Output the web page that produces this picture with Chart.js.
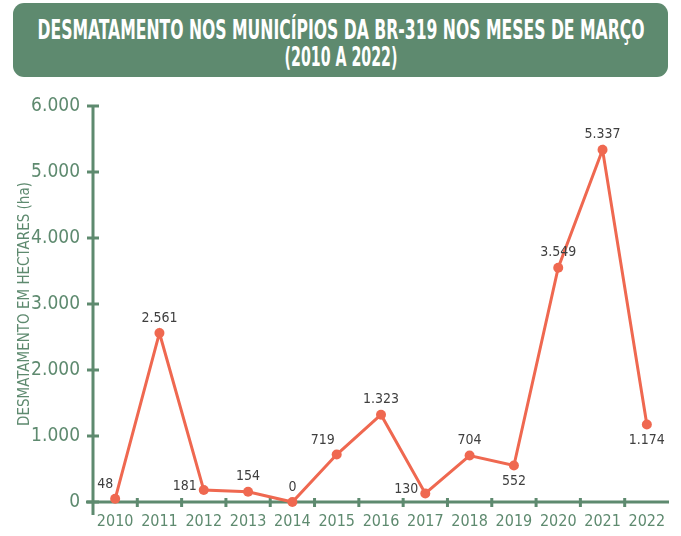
<!DOCTYPE html>
<html>
<head>
<meta charset="utf-8">
<script src="https://cdn.jsdelivr.net/npm/chart.js@4.4.0/dist/chart.umd.min.js"></script>
<style>
  html, body { margin: 0; padding: 0; background: #ffffff; }
  #wrap { position: relative; width: 681px; height: 536px; overflow: hidden; }
  #title {
    position: absolute; left: 13px; top: 3px; width: 655px; height: 74px;
    background: #5E8A6F; border-radius: 11px; color: #ffffff;
    font-family: 'DejaVu Sans Condensed', 'DejaVu Sans', sans-serif;
    font-weight: bold; font-size: 26px; line-height: 28px;
    white-space: nowrap;
  }
  #title span { position: absolute; left: 50%; transform-origin: center center; }
  canvas { position: absolute; left: 0; top: 0; }
</style>
</head>
<body>
<div id="wrap">
  <div id="title">
    <span id="t1" style="top:13px">DESMATAMENTO NOS MUNICÍPIOS DA BR-319 NOS MESES DE MARÇO</span>
    <span id="t2" style="top:40px">(2010 A 2022)</span>
  </div>
  <canvas id="c" width="681" height="536"></canvas>
</div>
<script>
const years = ['2010','2011','2012','2013','2014','2015','2016','2017','2018','2019','2020','2021','2022'];
const deforestation = [48, 2561, 181, 154, 0, 719, 1323, 130, 704, 552, 3549, 5337, 1174];
const yTicks = [0, 1000, 2000, 3000, 4000, 5000, 6000];
const labelSide = ['aboveLeft','above','left','above','above','aboveLeft','above','left','above','below','above','above','below'];

const GREEN = '#5E8A6F';
const LINE = '#EF6850';
const FONT = "'DejaVu Sans Condensed', 'DejaVu Sans', sans-serif";

// condense the title lines to the reference widths
[['t1', 607], ['t2', 113]].forEach(([id, w]) => {
  const el = document.getElementById(id);
  const s = w / el.getBoundingClientRect().width;
  el.style.transform = 'translateX(-50%) scaleX(' + s + ')';
});

function fmt(v) {
  return String(v).replace(/\B(?=(\d{3})+(?!\d))/g, '.');
}

const axesPlugin = {
  id: 'axesPlugin',
  beforeDatasetsDraw(chart) {
    const ctx = chart.ctx;
    const x = chart.scales.x, y = chart.scales.y;
    const ca = chart.chartArea;
    ctx.save();
    ctx.strokeStyle = GREEN;
    ctx.lineWidth = 3;
    ctx.beginPath();
    ctx.moveTo(ca.left, ca.top - 1);
    ctx.lineTo(ca.left, ca.bottom + 13);
    ctx.moveTo(ca.left - 7, ca.bottom);
    ctx.lineTo(ca.right, ca.bottom);
    ctx.stroke();
    yTicks.forEach(v => {
      const py = y.getPixelForValue(v);
      ctx.beginPath();
      ctx.moveTo(ca.left - 6, py);
      ctx.lineTo(ca.left + 6, py);
      ctx.stroke();
    });
    for (let i = 1; i < years.length; i++) {
      const px = (x.getPixelForValue(i - 1) + x.getPixelForValue(i)) / 2;
      ctx.beginPath();
      ctx.moveTo(px, ca.bottom - 4);
      ctx.lineTo(px, ca.bottom + 5);
      ctx.stroke();
    }
    ctx.restore();
  },
  afterDatasetsDraw(chart) {
    const ctx = chart.ctx;
    const meta = chart.getDatasetMeta(0);
    ctx.save();
    ctx.fillStyle = '#3f3f3f';
    ctx.font = '14px ' + FONT;
    meta.data.forEach((pt, i) => {
      const txt = fmt(deforestation[i]);
      const side = labelSide[i];
      let lx = pt.x, ly = pt.y;
      if (side === 'above') { ctx.textAlign = 'center'; ctx.textBaseline = 'bottom'; ly -= 8; }
      else if (side === 'below') { ctx.textAlign = 'center'; ctx.textBaseline = 'top'; ly += 9; }
      else if (side === 'left') { ctx.textAlign = 'right'; ctx.textBaseline = 'middle'; lx -= 7; ly -= 4; }
      else if (side === 'aboveLeft') { ctx.textAlign = 'right'; ctx.textBaseline = 'bottom'; lx -= 2; ly -= 7; }
      ctx.fillText(txt, lx, ly);
    });
    ctx.restore();
  }
};

new Chart(document.getElementById('c'), {
  type: 'line',
  data: {
    labels: years,
    datasets: [{
      data: deforestation,
      borderColor: LINE,
      backgroundColor: LINE,
      borderWidth: 3,
      pointRadius: 5,
      pointHoverRadius: 5,
      pointBackgroundColor: LINE,
      pointBorderWidth: 0,
      tension: 0,
      clip: false
    }]
  },
  options: {
    responsive: false,
    animation: false,
    events: [],
    layout: { padding: { top: 106, right: 12, left: 0, bottom: 0 } },
    plugins: { legend: { display: false }, tooltip: { enabled: false }, title: { display: false } },
    scales: {
      x: {
        type: 'category',
        offset: true,
        grid: { display: false, drawTicks: false },
        border: { display: false },
        ticks: { color: GREEN, font: { family: FONT, size: 16 }, padding: 10, maxRotation: 0, autoSkip: false },
        afterFit(s) { s.height = 34; }
      },
      y: {
        min: 0, max: 6000,
        grid: { display: false, drawTicks: false },
        border: { display: false },
        afterBuildTicks(s) { s.ticks = yTicks.map(v => ({ value: v })); },
        ticks: { color: GREEN, font: { family: FONT, size: 19 }, padding: 13, callback: v => fmt(v) },
        title: { display: true, text: 'DESMATAMENTO EM HECTARES (ha)', color: GREEN, font: { family: FONT, size: 15 }, padding: { top: 16, bottom: 0 } },
        afterFit(s) { s.width = 93; }
      }
    }
  },
  plugins: [axesPlugin]
});
</script>
</body>
</html>
